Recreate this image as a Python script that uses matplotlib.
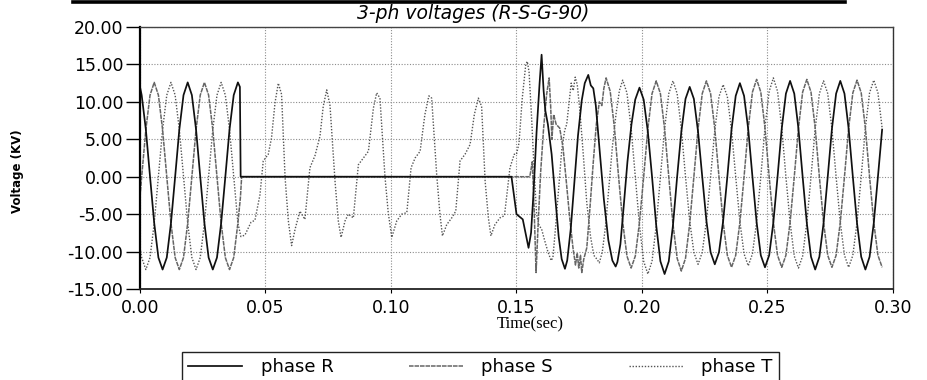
import numpy as np
import matplotlib.pyplot as plt
from matplotlib.lines import Line2D

plt.rcParams['axes.unicode_minus'] = False


# recorder sample grid, 600 samples per second
def grid(k0, k1):
    return (np.arange(k0, k1 + 1) + 0.4) / 600.0


# ---- phase R (kV) ----
r_start = 12.0
r_pre = [10.9, 6.3, 0.0, -6.2, -10.8, -12.4, -10.8, -6.2, 0.0, 6.3, 10.9, 12.6,
         10.9, 6.3, 0.0, -6.2, -10.8, -12.4, -10.8, -6.2, 0.0, 6.3, 10.9, 12.6]
r_mid_t = [0.0398, 0.0401, 0.1480, 0.1500, 0.1525, 0.1548, 0.1558, 0.1568, 0.1580, 0.1592,
           0.1600, 0.1608, 0.1615, 0.1625, 0.1640, 0.1655, 0.1668, 0.1680, 0.1693, 0.1702,
           0.1716, 0.1730, 0.1745, 0.1760, 0.1772, 0.1786, 0.1796, 0.1806, 0.1816, 0.1830,
           0.1848, 0.1866, 0.1882, 0.1895, 0.1902, 0.1914, 0.1927, 0.1942, 0.1958, 0.1973]
r_mid_v = [12.0, 0.0, 0.0, -5.0, -5.7, -9.5, -7.5, -2.0, 6.0, 12.5,
           16.3, 11.5, 8.8, 7.0, 3.0, -3.0, -8.0, -11.0, -12.3, -11.2,
           -7.0, -1.0, 5.5, 10.2, 12.5, 13.6, 12.2, 11.8, 9.5, 4.0,
           -3.0, -8.5, -11.2, -12.0, -11.4, -9.0, -4.0, 2.0, 7.0, 10.3]
r_post = [11.9, 10.3, 6.0, 0.0, -6.5, -11.3, -13.0, -11.3, -6.5, 0.0, 6.0, 10.4,
          12.0, 10.4, 6.0, 0.0, -5.9, -10.1, -11.7, -10.1, -5.9, 0.0, 6.3, 10.8,
          12.5, 10.8, 6.3, 0.0, -6.1, -10.5, -12.1, -10.5, -6.1, 0.0, 6.4, 11.1,
          12.8, 11.1, 6.4, 0.0, -6.2, -10.7, -12.4, -10.7, -6.2, 0.0, 6.4, 11.1,
          12.8, 11.1, 6.4, 0.0, -6.2, -10.7, -12.4, -10.7, -6.2, 0.0, 6.3]

# ---- phase S (kV) ----
s_start = -2.7
s_pre = [0.0, 6.3, 10.9, 12.6, 10.9, 6.3, 0.0, -6.2, -10.8, -12.4, -10.8, -6.2,
         0.0, 6.3, 10.9, 12.6, 10.9, 6.3, 0.0, -6.2, -10.8, -12.4, -10.8, -6.2]
s_mid_t = [0.0400, 0.0405, 0.1553, 0.1563, 0.1570, 0.1578, 0.1586, 0.1596, 0.1608, 0.1620,
           0.1630, 0.1636, 0.1641, 0.1648, 0.1658, 0.1672, 0.1685, 0.1698, 0.1712, 0.1725,
           0.1735, 0.1742, 0.1748, 0.1755, 0.1760, 0.1768, 0.1780, 0.1793, 0.1806, 0.1818,
           0.1830, 0.1840, 0.1848, 0.1857]
s_mid_v = [-2.8, 0.0, 0.0, 2.0, -4.0, -12.8, -6.5, 0.5, 6.5, 11.0,
           13.2, 9.5, 5.0, 8.3, 7.0, 6.5, 4.0, -0.5, -5.5, -9.5,
           -11.8, -10.2, -12.2, -10.5, -12.8, -11.0, -9.5, -4.0, 2.0, 7.0,
           10.0, 9.5, 11.8, 13.2]
s_post = [11.4, 6.6, 0.0, -6.1, -10.6, -12.2, -10.6, -6.1, 0.0, 6.4, 11.1, 12.8,
          11.1, 6.4, 0.0, -6.3, -10.9, -12.6, -10.9, -6.3, 0.0, 6.4, 11.1, 12.8,
          11.1, 6.4, 0.0, -6.1, -10.5, -12.1, -10.5, -6.1, 0.0, 6.5, 11.3, 13.0,
          11.3, 6.5, 0.0, -6.1, -10.5, -12.1, -10.5, -6.1, 0.0, 6.5, 11.3, 13.0,
          11.3, 6.5, 0.0, -6.1, -10.5, -12.1, -10.5, -6.1, 0.0, 6.5, 11.2, 12.9,
          11.2, 6.5, 0.0, -6.1, -10.5, -12.1]

# ---- phase T (kV) ----
t_start = -9.5
t_pre = [-10.8, -12.4, -10.8, -6.2, 0.0, 6.3, 10.9, 12.6, 10.9, 6.3, 0.0, -6.2,
         -10.8, -12.4, -10.8, -6.2, 0.0, 6.3, 10.9, 12.6, 10.9, 6.3, 0.0, -6.2]
t_mid_t = [0.0402, 0.0418, 0.0442, 0.0458, 0.0478, 0.0491, 0.0511, 0.0524, 0.0538, 0.0551,
           0.0564, 0.0578, 0.0591, 0.0604, 0.0618, 0.0637, 0.0657, 0.0677, 0.0697, 0.0717,
           0.0730, 0.0744, 0.0757, 0.0777, 0.0790, 0.0801, 0.0817, 0.0830, 0.0850, 0.0870,
           0.0890, 0.0910, 0.0930, 0.0943, 0.0956, 0.0976, 0.0989, 0.1003, 0.1023, 0.1043,
           0.1063, 0.1080, 0.1096, 0.1116, 0.1135, 0.1151, 0.1162, 0.1182, 0.1195, 0.1205,
           0.1222, 0.1242, 0.1258, 0.1275, 0.1295, 0.1315, 0.1332, 0.1348, 0.1361, 0.1375,
           0.1388, 0.1398, 0.1414, 0.1434, 0.1452, 0.1474, 0.1491, 0.1500, 0.1510, 0.1523,
           0.1537, 0.1543, 0.1550, 0.1560, 0.1570, 0.1580, 0.1590, 0.1600, 0.1612, 0.1625,
           0.1638, 0.1645, 0.1655, 0.1668, 0.1680, 0.1692, 0.1700, 0.1708, 0.1718, 0.1726,
           0.1734, 0.1742, 0.1752, 0.1766, 0.1780, 0.1795, 0.1808, 0.1820, 0.1830, 0.1842,
           0.1855, 0.1868, 0.1882, 0.1897, 0.1910, 0.1923]
t_mid_v = [-8.0, -7.8, -6.1, -5.8, -2.4, 2.1, 3.0, 5.2, 9.9, 12.5,
           11.0, -0.1, -5.9, -9.2, -7.0, -4.6, -5.7, 1.2, 2.8, 5.4,
           9.4, 11.6, 9.5, -0.6, -5.9, -8.1, -5.9, -5.0, -5.5, 1.6,
           2.5, 3.4, 9.2, 11.2, 10.5, 0.0, -4.8, -8.1, -5.9, -5.0,
           -4.8, 1.2, 2.5, 3.4, 8.3, 10.8, 10.5, 0.3, -5.0, -7.9,
           -6.4, -5.5, -4.6, 2.1, 3.0, 4.3, 8.3, 10.5, 9.4, -0.6,
           -5.5, -7.9, -6.4, -5.5, -5.2, 1.2, 3.0, 3.0, 4.5, 10.5,
           15.0, 15.4, 14.0, 8.0, 1.0, -5.0, -6.5, -7.0, -8.5, -10.0,
           -11.2, -10.8, -7.0, -1.5, 3.5, 6.2, 7.0, 9.5, 12.5, 11.5,
           13.3, 12.3, 9.0, 3.0, -3.5, -8.0, -10.5, -11.0, -11.5, -10.0,
           -6.5, -1.5, 4.0, 8.5, 11.5, 12.9]
t_post = [11.2, 6.5, 0.0, -6.5, -11.3, -13.0, -11.3, -6.5, 0.0, 6.4, 11.1, 12.8,
          11.1, 6.4, 0.0, -5.9, -10.1, -11.7, -10.1, -5.9, 0.0, 6.2, 10.7, 12.3,
          10.7, 6.2, 0.0, -6.0, -10.3, -11.9, -10.3, -6.0, 0.0, 6.6, 11.4, 13.2,
          11.4, 6.6, 0.0, -6.1, -10.6, -12.2, -10.6, -6.1, 0.0, 6.4, 11.1, 12.8,
          11.1, 6.4, 0.0, -6.1, -10.5, -12.1, -10.5, -6.1, 0.0, 6.5, 11.2, 12.9,
          11.2, 6.5]

x_ticks = [0.00, 0.05, 0.10, 0.15, 0.20, 0.25, 0.30]
y_ticks = [-15, -10, -5, 0, 5, 10, 15, 20]

tR = np.concatenate([[0.0], grid(0, 23), r_mid_t, grid(119, 177)])
vR = np.concatenate([[r_start], r_pre, r_mid_v, r_post])
tS = np.concatenate([[0.0], grid(0, 23), s_mid_t, grid(112, 177)])
vS = np.concatenate([[s_start], s_pre, s_mid_v, s_post])
tT = np.concatenate([[0.0], grid(0, 23), t_mid_t, grid(116, 177)])
vT = np.concatenate([[t_start], t_pre, t_mid_v, t_post])

fig = plt.figure(figsize=(9.28, 3.8), dpi=100)
ax = fig.add_axes([140 / 928, 1 - 289 / 380, (893 - 140) / 928, (289 - 27) / 380])

lT, = ax.plot(tT, vT, color='#555555', lw=1.0, linestyle=(0, (1, 1.2)), label='phase T')
lS, = ax.plot(tS, vS, color='#666666', lw=1.1, linestyle=(0, (3, 0.6)), label='phase S')
lR, = ax.plot(tR, vR, color='#101010', lw=1.25, label='phase R')

ax.set_xlim(0, 0.30)
ax.set_ylim(-15, 20)
ax.set_xticks(x_ticks)
ax.set_xticklabels(['%.2f' % v for v in x_ticks])
ax.set_yticks(y_ticks)
ax.set_yticklabels(['%.2f' % v for v in y_ticks])
ax.tick_params(axis='y', length=10, width=1.0, pad=2, labelsize=12.5)
ax.tick_params(axis='x', length=3, width=0.8, pad=4, labelsize=12.5)
ax.grid(True, color='#8c8c8c', lw=0.8, linestyle=(0, (1, 1.5)))

ax.spines['left'].set_linewidth(1.6)
ax.spines['bottom'].set_linewidth(1.3)
ax.spines['bottom'].set_color('#222222')
ax.spines['top'].set_linewidth(1.0)
ax.spines['top'].set_color('#444444')
ax.spines['right'].set_linewidth(1.0)
ax.spines['right'].set_color('#333333')

ax.set_title('3-ph voltages (R-S-G-90)', fontsize=13.5, style='italic', x=0.442, pad=6)
ax.set_ylabel('Voltage (KV)', fontsize=8.5, fontweight='bold')
ax.yaxis.set_label_coords(-0.154, 0.45)
ax.set_xlabel('Time(sec)', fontsize=12, family='Liberation Serif')
ax.xaxis.set_label_coords(0.518, -0.105)

leg = ax.legend(handles=[lR, lS, lT], loc='upper left',
                bbox_to_anchor=(182 / 928, 1 - 352 / 380), bbox_transform=fig.transFigure,
                ncol=3, fontsize=13, handlelength=3.0, handletextpad=1.0,
                columnspacing=4.2, borderpad=0.35, borderaxespad=0,
                fancybox=False, framealpha=1, edgecolor='#222222')
leg.get_frame().set_linewidth(1.0)

# heavy rule across the top of the sheet
fig.add_artist(Line2D([73 / 928, 845 / 928], [1 - 1.5 / 380, 1 - 1.5 / 380],
                      transform=fig.transFigure, color='black', lw=2.6))

fig.savefig('out.png', dpi=100)
